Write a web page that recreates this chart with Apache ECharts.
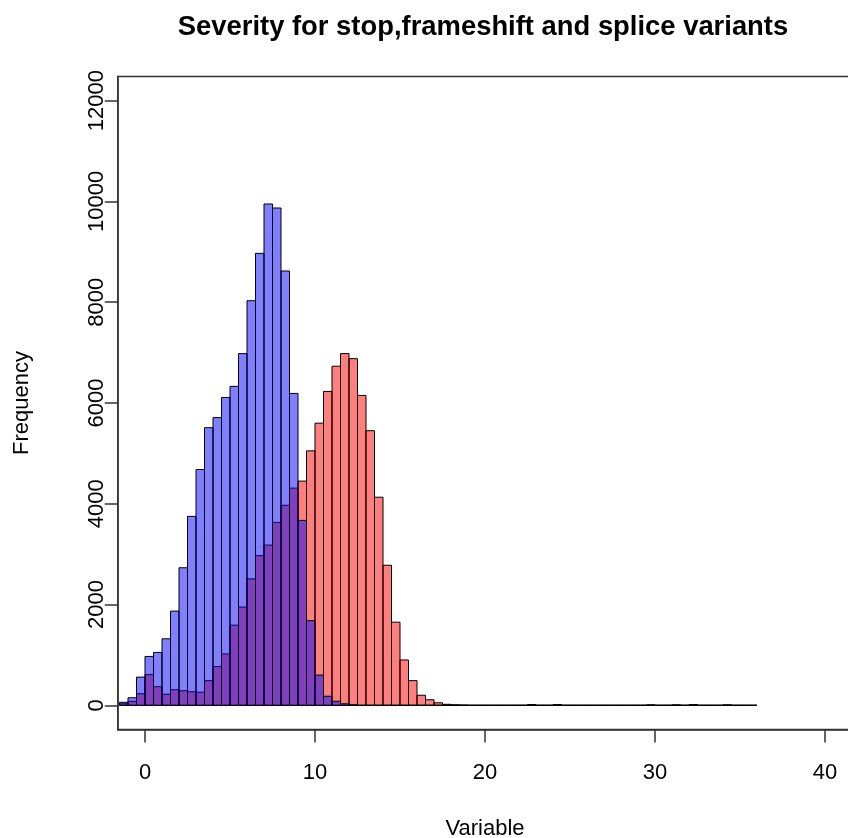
<!DOCTYPE html>
<html>
<head>
<meta charset="utf-8">
<title>Severity histogram</title>
<script src="https://cdn.jsdelivr.net/npm/echarts@6/dist/echarts.min.js"></script>
<style>
  html, body { margin: 0; padding: 0; background: #ffffff; }
  #chart { width: 848px; height: 838px; }
</style>
</head>
<body>
<div id="chart"></div>
<script>
// Histogram bins: width 0.5, first bin starts at -1.5
const binStart = -1.5;
const binWidth = 0.5;

// Counts per bin, blue series
const blueCounts = [
  60, 150, 560, 970, 1050, 1320, 1870, 2730, 3750, 4680,
  5510, 5710, 6110, 6330, 6980, 8030, 8970, 9950, 9870, 8620,
  6190, 3670, 1680, 600, 180, 80, 30, 10, 0, 0,
  0, 0, 0, 0, 0, 0, 0, 0, 0, 0,
  0, 0, 0, 0, 0, 0, 0, 0, 0, 0,
  0, 0, 0, 0, 0, 0, 0, 0, 0, 0,
  0, 0, 0, 0, 0, 0, 0, 0, 0, 0,
  0, 0, 0, 0, 0
];

// Counts per bin, red series
const redCounts = [
  30, 80, 230, 610, 370, 220, 310, 290, 270, 260,
  490, 770, 1020, 1590, 1950, 2510, 2970, 3180, 3630, 3970,
  4310, 4450, 5050, 5600, 6230, 6730, 6980, 6880, 6150, 5450,
  4130, 2780, 1650, 900, 490, 200, 110, 50, 20, 10,
  5, 0, 0, 0, 0, 0, 0, 0, 15, 0,
  0, 15, 0, 0, 0, 0, 0, 0, 0, 0,
  0, 0, 10, 0, 0, 10, 0, 15, 0, 0,
  0, 10, 0, 0, 0
];

const xTicks = [0, 10, 20, 30, 40];
const yTicks = [0, 2000, 4000, 6000, 8000, 10000, 12000];

const titleText = 'Severity for stop,frameshift and splice variants';
const xTitle = 'Variable';
const yTitle = 'Frequency';

function toBins(counts) {
  return counts.map((c, i) => [binStart + i * binWidth, binStart + (i + 1) * binWidth, c]);
}

function histItem(fill) {
  return function (params, api) {
    const x0 = api.value(0), x1 = api.value(1), v = api.value(2);
    const p0 = api.coord([x0, 0]);
    const p1 = api.coord([x1, v]);
    return {
      type: 'rect',
      shape: { x: p0[0], y: p1[1], width: p1[0] - p0[0], height: p0[1] - p1[1] },
      style: { fill: fill, stroke: '#000000', lineWidth: 1 }
    };
  };
}

const font = '"Liberation Sans", Arial, Helvetica, sans-serif';
const axisColor = '#333333';
const chart = echarts.init(document.getElementById('chart'), null, { renderer: 'canvas' });

chart.setOption({
  backgroundColor: '#ffffff',
  animation: false,
  graphic: [{
    type: 'text',
    x: 483, y: 27,
    style: {
      text: titleText,
      font: 'bold 27.4px ' + font,
      fill: '#000000',
      textAlign: 'center',
      textVerticalAlign: 'middle'
    }
  }],
  grid: {
    left: 117.8, top: 76.5, width: 734.4, height: 653,
    outerBoundsMode: 'none', containLabel: false,
    show: true, borderColor: axisColor, borderWidth: 1.5, backgroundColor: 'transparent'
  },
  xAxis: {
    type: 'value', min: -1.6, max: 41.6,
    name: xTitle, nameLocation: 'middle', nameGap: 88,
    nameTextStyle: { fontFamily: font, fontSize: 22, color: '#000' },
    axisLine: { show: true, onZero: false, lineStyle: { color: axisColor, width: 1.5 } },
    axisTick: { show: true, length: 13, inside: false, customValues: xTicks, lineStyle: { color: axisColor, width: 1.5 } },
    axisLabel: { customValues: xTicks, margin: 32, fontFamily: font, fontSize: 22, color: '#000',
      formatter: v => String(v) },
    splitLine: { show: false }
  },
  yAxis: {
    type: 'value', min: -480, max: 12480,
    name: yTitle, nameLocation: 'middle', nameGap: 85, nameRotate: 90,
    nameTextStyle: { fontFamily: font, fontSize: 22, color: '#000' },
    axisLine: { show: true, onZero: false, lineStyle: { color: axisColor, width: 1.5 } },
    axisTick: { show: true, length: 13, inside: false, customValues: yTicks, lineStyle: { color: axisColor, width: 1.5 } },
    axisLabel: { customValues: yTicks, rotate: 90, margin: 10, fontFamily: font, fontSize: 22, color: '#000',
      formatter: v => String(v) },
    splitLine: { show: false }
  },
  series: [
    {
      name: 'red', type: 'custom', data: toBins(redCounts),
      encode: { x: [0, 1], y: 2 }, renderItem: histItem('rgba(255,0,0,0.5)'), clip: true
    },
    {
      name: 'blue', type: 'custom', data: toBins(blueCounts),
      encode: { x: [0, 1], y: 2 }, renderItem: histItem('rgba(0,0,255,0.5)'), clip: true
    }
  ]
});
</script>
</body>
</html>
